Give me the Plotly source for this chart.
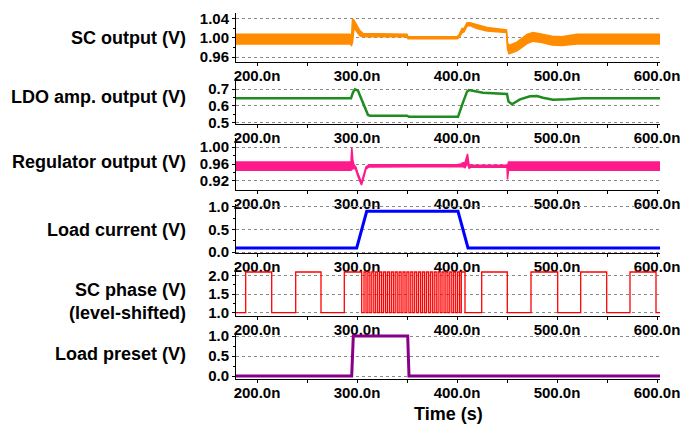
import plotly.graph_objects as go

# ---------------- data (time in ns) ----------------
x_range = [179, 603]
x_ticks = [200, 300, 400, 500, 600]
x_ticktext = ["200.0n", "300.0n", "400.0n", "500.0n", "600.0n"]

# SC output: ripple envelope (lower / upper)
sc_t  = [179, 293, 294.5, 295.5, 297, 300, 303, 306, 350, 351, 400, 402, 405, 407, 410, 413, 420, 430, 449.5, 450.5, 452, 460, 470, 476, 485, 495, 505, 520, 603]
sc_lo = [0.987, 0.987, 0.984, 0.990, 1.020, 1.012, 1.004, 1.002, 1.002, 0.998, 0.998, 1.000, 1.010, 1.012, 1.024, 1.025, 1.019, 1.014, 1.011, 0.976, 0.967, 0.973, 0.988, 0.993, 0.990, 0.985, 0.984, 0.987, 0.987]
sc_hi = [1.007, 1.007, 1.000, 1.039, 1.036, 1.025, 1.014, 1.009, 1.007, 1.002, 1.002, 1.006, 1.019, 1.019, 1.031, 1.031, 1.027, 1.021, 1.016, 0.990, 0.984, 0.991, 1.007, 1.011, 1.007, 1.003, 1.002, 1.007, 1.007]

# LDO amplifier output
ldo_t = [179, 294, 296, 298, 301, 306, 311, 313, 350, 352, 401, 406, 410, 412, 426, 450, 451.5, 455, 463, 473, 480, 486, 496, 510, 526, 603]
ldo_v = [0.645, 0.645, 0.680, 0.698, 0.690, 0.614, 0.544, 0.540, 0.540, 0.533, 0.533, 0.620, 0.684, 0.694, 0.678, 0.670, 0.625, 0.608, 0.638, 0.656, 0.658, 0.648, 0.636, 0.638, 0.645, 0.645]

# Regulator output: ripple envelope
reg_t  = [179, 294, 294.8, 295.8, 297, 299, 301, 304.5, 307, 309, 312, 400, 404, 406, 408, 410.5, 412, 414, 450, 450.5, 451.5, 603]
reg_lo = [0.945, 0.945, 0.950, 0.948, 0.952, 0.945, 0.930, 0.910, 0.930, 0.948, 0.953, 0.953, 0.954, 0.954, 0.951, 0.962, 0.950, 0.952, 0.952, 0.923, 0.945, 0.945]
reg_hi = [0.965, 0.965, 1.000, 0.970, 0.958, 0.952, 0.937, 0.916, 0.937, 0.953, 0.958, 0.958, 0.960, 0.963, 0.963, 0.984, 0.958, 0.957, 0.957, 0.955, 0.965, 0.965]

# Load current
load_t = [179, 299.7, 309.7, 401, 411, 603]
load_v = [0.09, 0.09, 0.90, 0.90, 0.09, 0.09]

# SC phase (level-shifted) transition times
phase_low, phase_high = 1.0, 2.1
phase_rise = [188.7, 238.7, 287.3,
              307.0, 310.9, 314.8, 318.7, 322.6, 326.5, 330.4, 334.3, 338.2, 342.1, 346.0, 349.9, 353.8,
              357.7, 361.6, 365.5, 369.4, 373.3, 377.2, 381.1, 385.0, 388.9, 392.8, 396.7, 400.6, 404.3,
              424.7, 474.0, 523.7, 573.0]
phase_fall = [214.7, 264.0, 304.7,
              309.0, 312.9, 316.8, 320.7, 324.6, 328.5, 332.4, 336.3, 340.2, 344.1, 348.0, 351.9, 355.8,
              359.7, 363.6, 367.5, 371.4, 375.3, 379.2, 383.1, 387.0, 390.9, 394.8, 398.7, 402.6, 408.0,
              450.3, 500.7, 549.7, 599.0]

# Load preset
pre_t = [179, 294.7, 296.3, 350.7, 352, 603]
pre_v = [0.0, 0.0, 1.0, 1.0, 0.0, 0.0]

# y-axis ticks per panel
y_ticks = [[0.96, 1.00, 1.04], [0.5, 0.6, 0.7], [0.92, 0.96, 1.00], [0.0, 0.5, 1.0], [1.0, 1.5, 2.0], [0.0, 0.5, 1.0]]
y_ticktext = [["0.96", "1.00", "1.04"], ["0.5", "0.6", "0.7"], ["0.92", "0.96", "1.00"],
              ["0.0", "0.5", "1.0"], ["1.0", "1.5", "2.0"], ["0.0", "0.5", "1.0"]]
y_minor = [[0.98, 1.02], [0.55, 0.65], [0.94, 0.98], [0.25, 0.75], [1.25, 1.75], [0.25, 0.75]]
y_ranges = [[0.950, 1.051], [0.493, 0.766], [0.898, 1.022], [-0.022, 1.06], [0.911, 2.208], [-0.075, 1.075]]
titles = ["SC output (V)", "LDO amp. output (V)", "Regulator output (V)", "Load current (V)",
          "SC phase (V)<br>(level-shifted)", "Load preset (V)"]

# ---------------- layout geometry ----------------
W, H = 683, 425
panel_px = [(13, 62), (78, 123.5), (138, 190), (204, 253), (268, 316), (333, 379)]
title_y_px = [38, 97, 162, 230, 301, 354]
x_left, x_right = 236, 660

ORANGE = "#FF8C00"
GREEN = "#1E8C1E"
PINK = "#FF1A8C"
BLUE = "#0000FF"
RED = "#FF0000"
PURPLE = "#880088"

fig = go.Figure()

def ax(i):
    return "" if i == 1 else str(i)

# Panel 1: SC output band
fig.add_trace(go.Scatter(x=sc_t, y=sc_lo, mode="lines", line=dict(color=ORANGE, width=1.5),
                         xaxis="x", yaxis="y", showlegend=False))
fig.add_trace(go.Scatter(x=sc_t, y=sc_hi, mode="lines", line=dict(color=ORANGE, width=1.5),
                         fill="tonexty", fillcolor=ORANGE, xaxis="x", yaxis="y", showlegend=False))
# Panel 2: LDO
fig.add_trace(go.Scatter(x=ldo_t, y=ldo_v, mode="lines", line=dict(color=GREEN, width=2.5),
                         xaxis="x2", yaxis="y2", showlegend=False))
# Panel 3: regulator band
fig.add_trace(go.Scatter(x=reg_t, y=reg_lo, mode="lines", line=dict(color=PINK, width=1.5),
                         xaxis="x3", yaxis="y3", showlegend=False))
fig.add_trace(go.Scatter(x=reg_t, y=reg_hi, mode="lines", line=dict(color=PINK, width=1.5),
                         fill="tonexty", fillcolor=PINK, xaxis="x3", yaxis="y3", showlegend=False))
# Panel 4: load current
fig.add_trace(go.Scatter(x=load_t, y=load_v, mode="lines", line=dict(color=BLUE, width=3),
                         xaxis="x4", yaxis="y4", showlegend=False))
# Panel 5: SC phase step waveform
events = sorted([(t, phase_high) for t in phase_rise] + [(t, phase_low) for t in phase_fall])
ph_x = [x_range[0]] + [e[0] for e in events] + [x_range[1]]
ph_y = [phase_low] + [e[1] for e in events] + [events[-1][1]]
fig.add_trace(go.Scatter(x=ph_x, y=ph_y, mode="lines", line=dict(color=RED, width=1.3, shape="hv"),
                         xaxis="x5", yaxis="y5", showlegend=False))
# Panel 6: load preset
fig.add_trace(go.Scatter(x=pre_t, y=pre_v, mode="lines", line=dict(color=PURPLE, width=3),
                         xaxis="x6", yaxis="y6", showlegend=False))

FONT = "Liberation Sans, Arial, sans-serif"
layout = dict(width=W, height=H, margin=dict(l=0, r=0, t=0, b=0, pad=0, autoexpand=False),
              paper_bgcolor="white", plot_bgcolor="white", showlegend=False,
              font=dict(family=FONT, color="black"))

for i in range(1, 7):
    top, bot = panel_px[i - 1]
    layout["xaxis" + ax(i)] = dict(
        domain=[x_left / W, x_right / W], anchor="y" + ax(i), range=x_range, automargin=False,
        tickmode="array", tickvals=x_ticks, ticktext=x_ticktext,
        tickfont=dict(size=15, family=FONT, weight="bold", color="black"),
        showline=True, linecolor="black", linewidth=1, ticks="outside", ticklen=3,
        ticklabelstandoff=-3,
        tickcolor="black", showgrid=False, zeroline=False,
        minor=dict(tickmode="array", tickvals=[250, 350, 450, 550], ticklen=3, ticks="outside", tickcolor="black", showgrid=False),
    )
    layout["yaxis" + ax(i)] = dict(
        domain=[1 - bot / H, 1 - top / H], anchor="x" + ax(i), range=y_ranges[i - 1], automargin=False,
        tickmode="array", tickvals=y_ticks[i - 1], ticktext=y_ticktext[i - 1],
        tickfont=dict(size=15, family=FONT, weight="bold", color="black"),
        showline=True, linecolor="black", linewidth=1, ticks="outside", ticklen=3,
        tickcolor="black", showgrid=True, gridcolor="#8a8a8a", griddash="dot", gridwidth=1,
        zeroline=False,
        minor=dict(tickmode="array", tickvals=y_minor[i - 1], ticklen=2, ticks="outside", tickcolor="black", showgrid=False),
    )

annotations = []
for i, t in enumerate(titles):
    annotations.append(dict(text="<b>" + t + "</b>", x=188 / W, y=1 - title_y_px[i] / H,
                            xref="paper", yref="paper", xanchor="right", yanchor="middle",
                            align="right", showarrow=False,
                            font=dict(size=18, family=FONT, color="black")))
annotations.append(dict(text="<b>Time (s)</b>", x=448 / W, y=1 - 414 / H, xref="paper", yref="paper",
                        xanchor="center", yanchor="middle", showarrow=False,
                        font=dict(size=18, family=FONT, color="black")))
layout["annotations"] = annotations

fig.update_layout(**layout)
fig.write_html("out.html")
